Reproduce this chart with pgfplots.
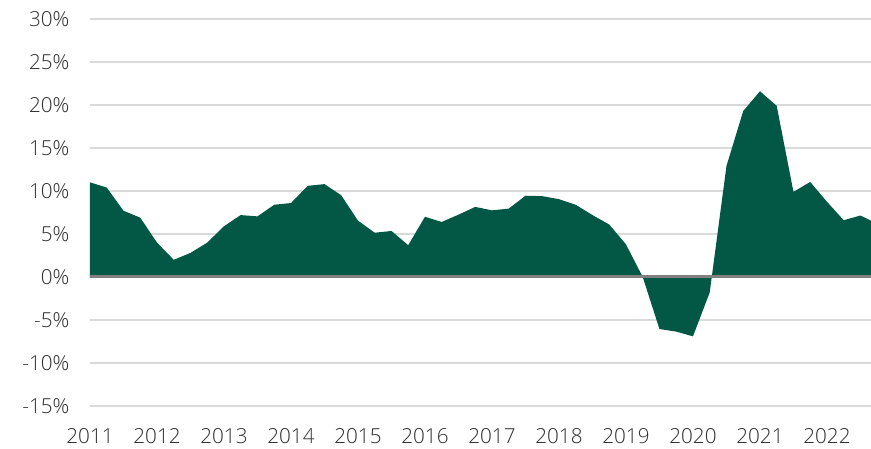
\documentclass[border=0pt]{standalone}
\usepackage{pgfplots}
\pgfplotsset{compat=1.18}
\usepackage{fontspec}
\setmainfont{Open Sans}[UprightFont=* Light]
\definecolor{areagreen}{RGB}{3,87,69}
\definecolor{txt}{RGB}{45,45,45}
\definecolor{gridc}{RGB}{217,217,217}
\definecolor{zeroc}{RGB}{128,128,128}
\begin{document}
\begin{tikzpicture}
\begin{axis}[
  scale only axis,
  width=585.75pt, height=290.25pt,
  xmin=0, xmax=46.63,
  ymin=-15, ymax=30,
  xtick={0,4,8,12,16,20,24,28,32,36,40,44},
  xticklabels={2011,2012,2013,2014,2015,2016,2017,2018,2019,2020,2021,2022},
  ytick={-15,-10,-5,0,5,10,15,20,25,30},
  yticklabels={-15\%,-10\%,-5\%,0\%,5\%,10\%,15\%,20\%,25\%,30\%},
  ymajorgrids=true,
  major grid style={draw=gridc, line width=1.5pt},
  axis line style={draw=none},
  major tick length=0pt,
  tick style={draw=none},
  ticklabel style={font=\fontsize{15.5}{18}\selectfont, text=txt},
  yticklabel style={xshift=-12pt},
  xticklabel style={yshift=-13pt},
]
\addplot[fill=areagreen, draw=none] table[row sep=\\] {
x y\\
0 11.0\\ 1 10.4\\ 2 7.7\\ 3 6.9\\ 4 4.0\\ 5 2.0\\ 6 2.8\\ 7 4.0\\
8 5.9\\ 9 7.2\\ 10 7.05\\ 11 8.4\\ 12 8.6\\ 13 10.6\\ 14 10.8\\ 15 9.5\\
16 6.55\\ 17 5.15\\ 18 5.35\\ 19 3.7\\ 20 7.0\\ 21 6.4\\ 22 7.25\\ 23 8.15\\
24 7.75\\ 25 7.95\\ 26 9.45\\ 27 9.4\\ 28 9.05\\ 29 8.4\\ 30 7.2\\ 31 6.1\\
32 3.8\\ 33 0.0\\ 34 -6.05\\ 35 -6.35\\ 36 -6.9\\ 37 -1.8\\ 38 12.9\\ 39 19.3\\
40 21.6\\ 41 19.9\\ 42 9.9\\ 43 11.05\\ 44 8.75\\ 45 6.6\\ 46 7.15\\ 47 6.2\\
} \closedcycle;
\addplot[draw=zeroc, line width=2.25pt] coordinates {(-1,0) (48,0)};
\end{axis}
\pgfresetboundingbox
\path ([xshift=-67.5pt,yshift=-32.25pt]current axis.south west) rectangle ([yshift=14.25pt]current axis.north east);
\end{tikzpicture}
\end{document}
